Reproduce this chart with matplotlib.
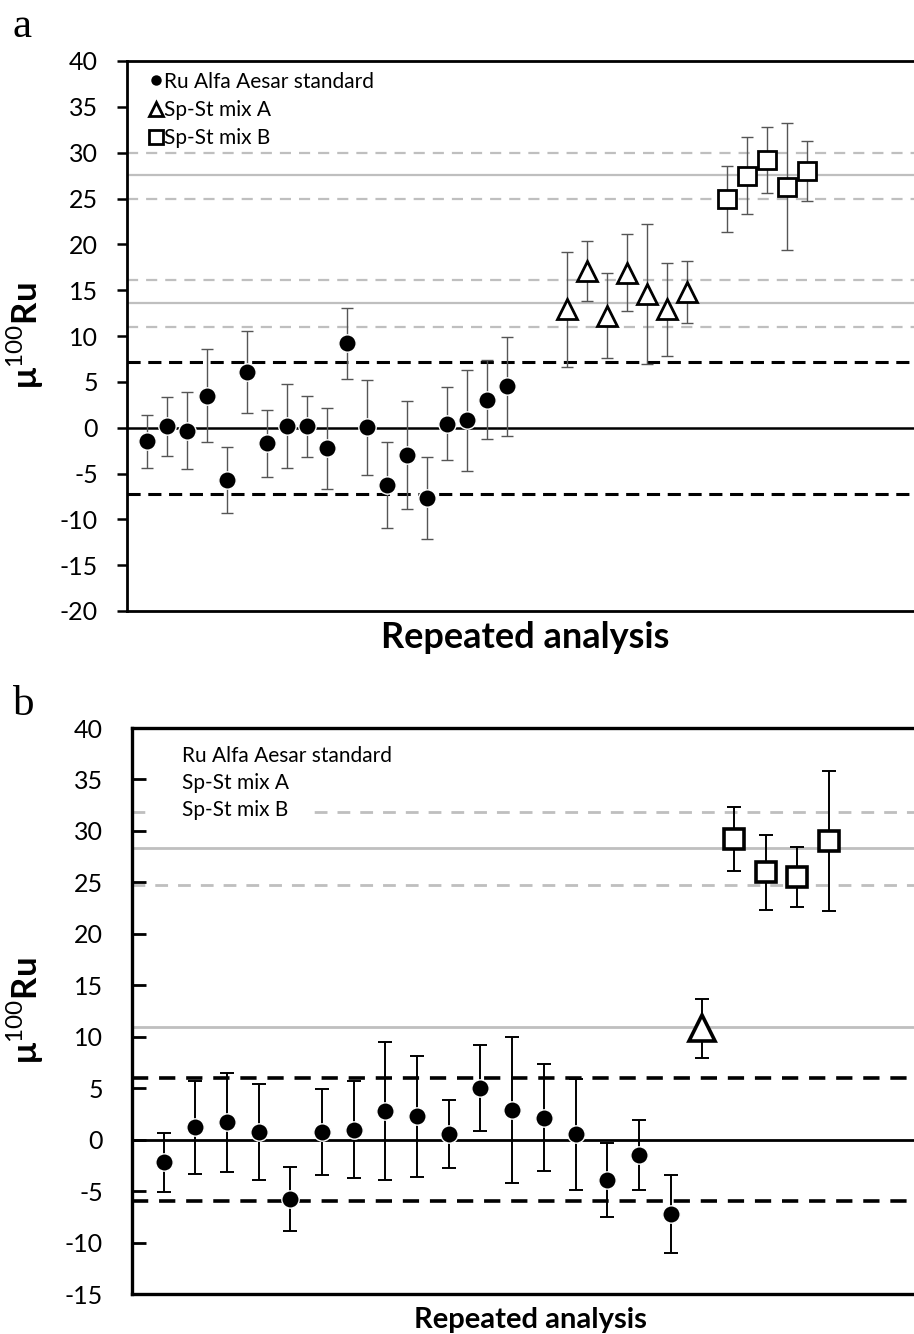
import numpy as np
import matplotlib
matplotlib.use('Agg')
import matplotlib.pyplot as plt
from matplotlib.patches import Rectangle

plt.rcParams['font.family'] = ['Lato', 'DejaVu Sans']
plt.rcParams['mathtext.fontset'] = 'custom'
plt.rcParams['mathtext.rm'] = 'Lato'
plt.rcParams['mathtext.bf'] = 'Lato:bold'
plt.rcParams['axes.unicode_minus'] = False

# Panel a data
a_std_val = [-1.5, 0.15, -0.35, 3.5, -5.7, 6.05, -1.7, 0.2, 0.15, -2.25, 9.2, 0.05, -6.25, -2.95, -7.65, 0.45, 0.8, 3.05, 4.5]
a_std_err = [2.9, 3.2, 4.2, 5.1, 3.6, 4.5, 3.65, 4.6, 3.3, 4.4, 3.85, 5.2, 4.7, 5.9, 4.5, 4.0, 5.5, 4.3, 5.4]
a_mixA_val = [12.9, 17.1, 12.2, 16.9, 14.6, 12.9, 14.8]
a_mixA_err = [6.25, 3.3, 4.65, 4.2, 7.6, 5.1, 3.4]
a_mixB_val = [25.0, 27.5, 29.2, 26.3, 28.0]
a_mixB_err = [3.6, 4.2, 3.6, 6.9, 3.3]
a_std_x = list(range(1, 20))
a_mixA_x = list(range(22, 29))
a_mixB_x = list(range(30, 35))
a_limit = 7.2
a_mixA_mean, a_mixA_band = 13.6, [16.1, 11.0]
a_mixB_mean, a_mixB_band = 27.6, [30.0, 24.95]

# Panel b data
b_std_val = [-2.2, 1.2, 1.7, 0.75, -5.75, 0.75, 0.95, 2.8, 2.25, 0.55, 5.0, 2.9, 2.15, 0.5, -3.9, -1.45, -7.2]
b_std_err = [2.85, 4.5, 4.8, 4.7, 3.1, 4.2, 4.7, 6.7, 5.9, 3.3, 4.2, 7.1, 5.2, 5.4, 3.6, 3.4, 3.8]
b_mixA_val = [10.8]
b_mixA_err = [2.85]
b_mixB_val = [29.2, 26.0, 25.5, 29.0]
b_mixB_err = [3.1, 3.65, 2.9, 6.8]
b_std_x = list(range(1, 18))
b_mixA_x = [18]
b_mixB_x = [19, 20, 21, 22]
b_limit = 5.95
b_mixA_mean = 10.9
b_mixB_mean, b_mixB_band = 28.3, [31.8, 24.75]

labels = ['Ru Alfa Aesar standard', 'Sp-St mix A', 'Sp-St mix B']
ylab = 'μ$^{100}$Ru'
gray = '#bfbfbf'

fig = plt.figure(figsize=(9.14, 13.34), dpi=100)

# ---------------- panel a ----------------
ax = fig.add_axes([127/914, 1-611/1334, 800/914, 550/1334])
ax.set_xlim(0, 40)
ax.set_ylim(-20, 40)
ax.set_yticks(np.arange(-20, 41, 5))
ax.set_xticks([])
for y in a_mixB_band + a_mixA_band:
    ax.axhline(y, color=gray, lw=1.6, ls=(0, (5, 3.6)), zorder=1)
ax.axhline(a_mixB_mean, color=gray, lw=1.6, zorder=1)
ax.axhline(a_mixA_mean, color=gray, lw=1.6, zorder=1)
ax.axhline(0, color='black', lw=1.8, zorder=1)
for y in [a_limit, -a_limit]:
    ax.axhline(y, color='black', lw=2.2, ls=(0, (4.3, 2.5)), zorder=1)

ekw = dict(fmt='none', ecolor='#555555', elinewidth=1.0, capsize=4.5, capthick=1.0, zorder=2)
ax.errorbar(a_std_x, a_std_val, yerr=a_std_err, **ekw)
ax.errorbar(a_mixA_x, a_mixA_val, yerr=a_mixA_err, **ekw)
ax.errorbar(a_mixB_x, a_mixB_val, yerr=a_mixB_err, **ekw)
h1, = ax.plot(a_std_x, a_std_val, 'o', ms=12.5, mfc='black', mec='white', mew=1.0, zorder=3)
h2, = ax.plot(a_mixA_x, a_mixA_val, '^', ms=14, mfc='white', mec='black', mew=2.0, zorder=3)
h3, = ax.plot(a_mixB_x, a_mixB_val, 's', ms=13, mfc='white', mec='black', mew=2.0, zorder=3)

leg = ax.legend([h1, h2, h3], labels, loc='upper left', bbox_to_anchor=(0.0175, 0.996),
                fontsize=15, frameon=False, handlelength=0.6, handletextpad=0.1,
                labelspacing=0.4, borderaxespad=0.1, borderpad=0.3)
hs = leg.legend_handles
hs[0].set_markersize(7.5)
hs[1].set_markersize(10.5)
hs[2].set_markersize(9.5)
hs[0].set_markeredgewidth(0)
hs[1].set_markeredgewidth(2.0)
hs[2].set_markeredgewidth(2.0)

for s in ['left', 'top', 'bottom', 'right']:
    ax.spines[s].set_linewidth(2.0)
ax.tick_params(axis='y', direction='out', length=7, width=1.8, labelsize=18, pad=14)
ax.set_ylabel(ylab, fontsize=25, fontweight='bold')
ax.yaxis.set_label_coords(-0.101, 0.5)
fig.text(525/914, 1-648/1334, 'Repeated analysis', fontsize=26, fontweight='bold',
         ha='center', va='baseline')
fig.text(12/914, 1-37/1334, 'a', family='Liberation Serif', fontsize=31, ha='left', va='baseline')

# ---------------- panel b ----------------
bx = fig.add_axes([132/914, 1-1294/1334, 792/914, 566/1334])
bx.set_xlim(0, 25)
bx.set_ylim(-15, 40)
bx.set_yticks(np.arange(-15, 41, 5))
bx.set_xticks([])
for y in b_mixB_band:
    bx.axhline(y, color=gray, lw=2.0, ls=(0, (4.6, 3.6)), zorder=1)
bx.axhline(b_mixB_mean, color=gray, lw=2.0, zorder=1)
bx.axhline(b_mixA_mean, color=gray, lw=2.0, zorder=1)
bx.axhline(0, color='black', lw=2.0, zorder=1)
for y in [b_limit, -b_limit]:
    bx.axhline(y, color='black', lw=2.6, ls=(0, (4.5, 3)), zorder=1)

ekw = dict(fmt='none', ecolor='black', elinewidth=1.4, capsize=5, capthick=1.4, zorder=2)
bx.errorbar(b_std_x, b_std_val, yerr=b_std_err, **ekw)
bx.errorbar(b_mixA_x, b_mixA_val, yerr=b_mixA_err, **ekw)
bx.errorbar(b_mixB_x, b_mixB_val, yerr=b_mixB_err, **ekw)
g1, = bx.plot(b_std_x, b_std_val, 'o', ms=12.5, mfc='black', mec='white', mew=1.0, zorder=3)
g2, = bx.plot(b_mixA_x, b_mixA_val, '^', ms=19, mfc='white', mec='black', mew=2.6, zorder=3)
g3, = bx.plot(b_mixB_x, b_mixB_val, 's', ms=14.5, mfc='white', mec='black', mew=2.6, zorder=3)

leg = bx.legend([g1, g2, g3], labels, loc='upper left', bbox_to_anchor=(0.0, 1.005),
                fontsize=15, frameon=False, handlelength=1.2, handletextpad=0.2,
                labelspacing=0.33, borderaxespad=0.6)
for h in leg.legend_handles:
    h.set_visible(False)
# white backing of the legend entry that sits over the grey dashed line
bx.add_patch(Rectangle((0.025, 0.83), 0.197, 0.042, transform=bx.transAxes,
                       facecolor='white', edgecolor='none', zorder=1.5))

for s in ['left', 'top', 'bottom', 'right']:
    bx.spines[s].set_linewidth(2.4)
bx.tick_params(axis='y', direction='in', length=10, width=2.0, labelsize=18, pad=21)
bx.set_ylabel(ylab, fontsize=25, fontweight='bold')
bx.yaxis.set_label_coords(-0.109, 0.5)
fig.text(530/914, 1-1328/1334, 'Repeated analysis', fontsize=21, fontweight='bold',
         ha='center', va='baseline')
fig.text(13/914, 1-715/1334, 'b', family='Liberation Serif', fontsize=31, ha='left', va='baseline')

fig.savefig('out.png', dpi=100)
